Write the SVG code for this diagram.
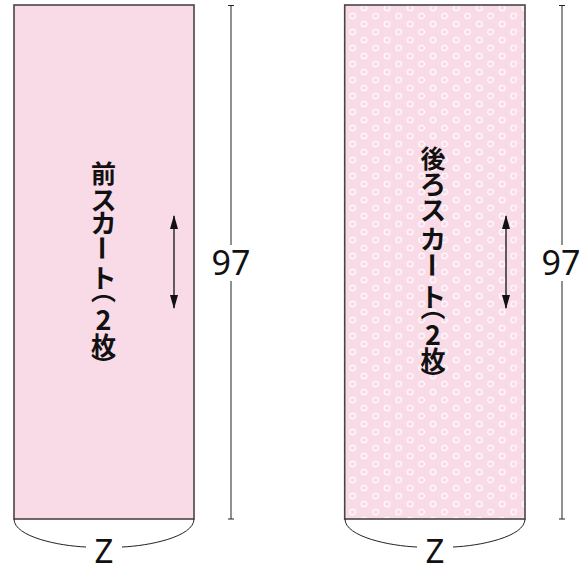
<svg xmlns="http://www.w3.org/2000/svg" width="582" height="573" viewBox="0 0 582 573">
<style>
.panel{fill:#f9dbe8;stroke:#4a4446;stroke-width:1.6}
.dim{stroke:#222;stroke-width:1;fill:none}
.num{font-family:"Noto Sans","Open Sans",sans-serif;font-size:34px;fill:#111;text-anchor:middle}
.z{font-size:33px}
.lbl text{font-family:"Noto Sans CJK JP","Noto Sans CJK SC",sans-serif;font-size:25px;font-weight:bold;fill:#111;text-anchor:middle;dominant-baseline:central}
.lbl text.k{font-size:26px}
.lbl text.d{font-size:27px}
.lbl text.p{writing-mode:vertical-rl;text-orientation:mixed}
.grain{stroke:#222;stroke-width:1.4;fill:none}
</style>
<defs>
<pattern id="dots" patternUnits="userSpaceOnUse" x="341.2" y="0" width="23" height="16">
<rect width="23" height="16" fill="#f9dbe8"/>
<g fill="none" stroke="#ffffff" stroke-width="1.1">
<circle cx="11.5" cy="0" r="2.8"/>
<circle cx="11.5" cy="16" r="2.8"/>
<circle cx="0" cy="8" r="2.8"/>
<circle cx="23" cy="8" r="2.8"/>
</g>
</pattern>
<marker id="ah" viewBox="0 0 14 8" refX="13" refY="4" markerWidth="14" markerHeight="8" markerUnits="userSpaceOnUse" orient="auto-start-reverse">
<path d="M0,0 L14,4 L0,8 Z" fill="#111"/>
</marker>
</defs>
<g id="front">
<rect class="panel" x="14" y="5" width="180" height="514"/>
<g class="lbl">
<text x="103.5" y="171.5">前</text>
<text class="k" x="103.5" y="198">ス</text>
<text class="k" x="103.5" y="221">カ</text>
<text class="k" transform="translate(103.5,248) rotate(90)">ー</text>
<text class="k" x="103.5" y="276">ト</text>
<text class="p" x="103.5" y="290.5">（</text>
<text class="d" x="103.5" y="318">2</text>
<text x="103.5" y="344">枚</text>
<text class="p" x="103.5" y="365.5">）</text>
</g>
</g>
<g id="back">
<rect class="panel" x="344.7" y="5" width="180.3" height="514" style="fill:url(#dots)"/>
<g class="lbl">
<text x="433" y="156.5">後</text>
<text class="k" x="433" y="182.5">ろ</text>
<text class="k" x="433" y="208">ス</text>
<text class="k" x="433" y="237.5">カ</text>
<text class="k" transform="translate(433,265) rotate(90)">ー</text>
<text class="k" x="433" y="295">ト</text>
<text class="p" x="433" y="307.5">（</text>
<text class="d" x="433" y="333">2</text>
<text x="433" y="357.5">枚</text>
<text class="p" x="433" y="379.5">）</text>
</g>
</g>
<g id="connectors">
<line class="grain" x1="174" y1="216" x2="174" y2="308" marker-start="url(#ah)" marker-end="url(#ah)"/>
<line class="grain" x1="506" y1="216" x2="506" y2="308" marker-start="url(#ah)" marker-end="url(#ah)"/>
<path class="dim" d="M228,5.5 H234 M231,5.5 V245 M231,281 V519 M228,519 H234"/>
<path class="dim" d="M559,5.5 H565 M562,5.5 V245 M562,281 V519 M559,519 H565"/>
<path class="dim" d="M14,519 C14,537 60,546 86,547 M122,547 C148,546 194,537 194,519"/>
<path class="dim" d="M345,519 C345,537 391,546 417,547 M453,547 C479,546 525,537 525,519"/>
</g>
<g id="labels">
<text class="num" x="231" y="275">97</text>
<text class="num" x="561" y="275">97</text>
<text class="num z" x="104" y="563">Z</text>
<text class="num z" x="435" y="563">Z</text>
</g>
</svg>
